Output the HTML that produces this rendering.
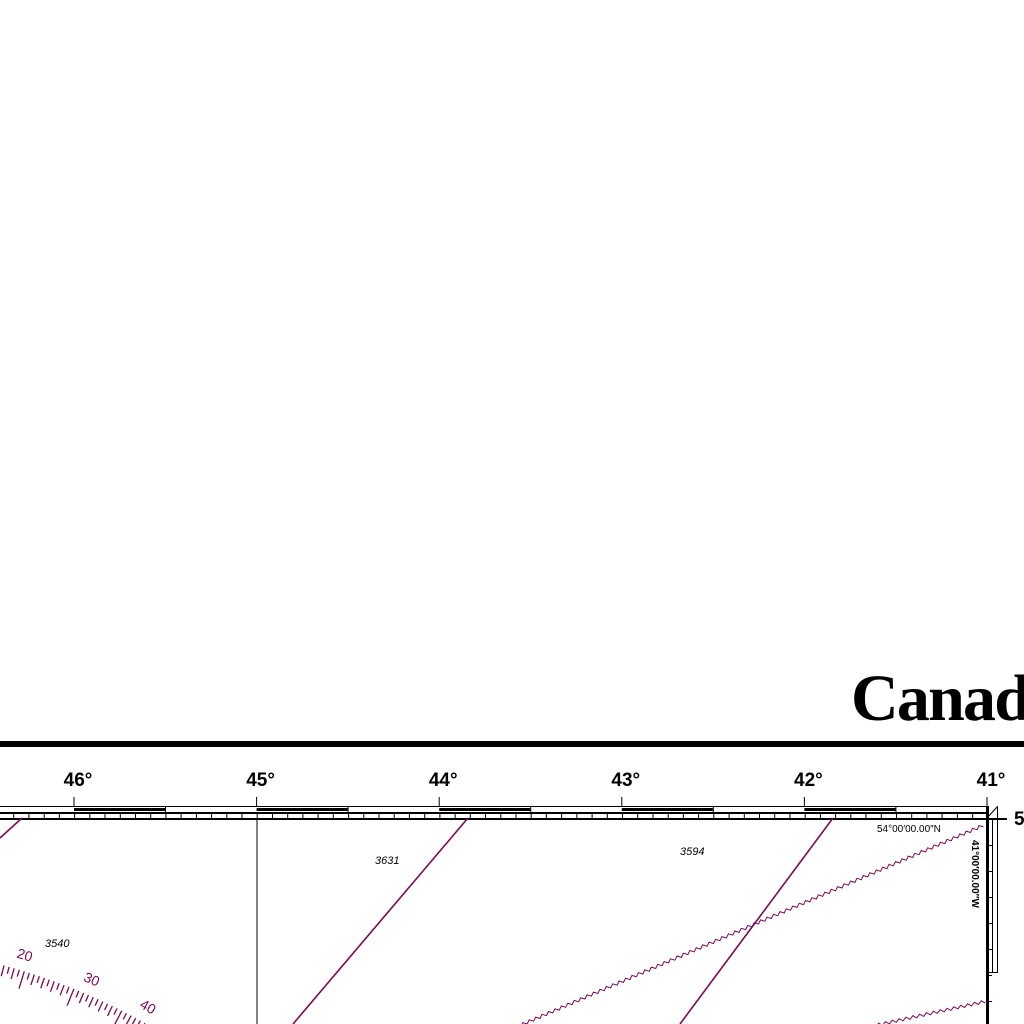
<!DOCTYPE html>
<html><head><meta charset="utf-8"><style>
body{margin:0;background:#fff;width:1024px;height:1024px;overflow:hidden}
svg{display:block}
</style></head><body>
<svg id="c" width="1024" height="1024" viewBox="0 0 1024 1024">
<text x="851" y="720" font-family="Liberation Serif, serif" font-weight="bold" font-size="66" fill="#000" textLength="180">Canad</text>
<rect x="0" y="741" width="1024" height="6" fill="#000"/>
<g id="border"></g>
<g id="marks"></g>
<text x="877" y="832" font-family="Liberation Sans, sans-serif" font-size="10" fill="#000">54°00′00.00″N</text>
<text transform="translate(972,840) rotate(90)" font-family="Liberation Sans, sans-serif" font-weight="bold" font-size="10" fill="#000">41°00′00.00″W</text>
<text x="1014" y="825" font-family="Liberation Sans, sans-serif" font-weight="bold" font-size="19" fill="#000">5</text>
<text x="45" y="947" font-family="Liberation Sans, sans-serif" font-style="italic" font-size="11" fill="#000">3540</text>
<text x="375" y="864" font-family="Liberation Sans, sans-serif" font-style="italic" font-size="11" fill="#000">3631</text>
<text x="680" y="855" font-family="Liberation Sans, sans-serif" font-style="italic" font-size="11" fill="#000">3594</text>
</svg>
<script>
const lonLabels=["46°","45°","44°","43°","42°","41°"];
const lonValues=[46,45,44,43,42,41];
const NS="http://www.w3.org/2000/svg";
const xOf=v=>74+(46-v)*182.6;
const B=document.getElementById('border'), M=document.getElementById('marks'), S=document.getElementById('c');
function el(p,tag,a){const e=document.createElementNS(NS,tag);for(const k in a)e.setAttribute(k,a[k]);p.appendChild(e);return e;}
el(B,'rect',{x:0,y:806,width:987,height:1,fill:'#000'});
el(B,'rect',{x:0,y:812,width:987,height:2,fill:'#000'});
el(B,'rect',{x:0,y:818,width:1007,height:2,fill:'#000'});
el(B,'rect',{x:986,y:806,width:3,height:218,fill:'#000'});
el(B,'rect',{x:992,y:818,width:1,height:155,fill:'#000'});
el(B,'rect',{x:997,y:806,width:1,height:167,fill:'#000'});
el(B,'rect',{x:986,y:972,width:12,height:1,fill:'#000'});
el(B,'line',{x1:987,y1:818,x2:997,y2:807,stroke:'#000','stroke-width':1});
for(let y=845;y<1024;y+=26){el(B,'rect',{x:986,y:y,width:6,height:1,fill:'#000'});}
for(let x=xOf(46)-15.2*5;x<987;x+=15.22){el(B,'rect',{x:x.toFixed(1),y:813,width:1,height:5,fill:'#000'});}
lonValues.forEach((v,i)=>{
  const x=xOf(v);
  const t=el(S,'text',{x:x+4,y:786,'text-anchor':'middle','font-family':'Liberation Sans, sans-serif','font-weight':'bold','font-size':'19',fill:'#000'});
  t.textContent=lonLabels[i];
  
  
  el(B,'rect',{x:x-0.5,y:797,width:1,height:10,fill:'#000'});
  if(i<5){
    el(B,'rect',{x:x,y:808,width:91,height:3,fill:'#000'});
    el(B,'rect',{x:x+91,y:806,width:1,height:8,fill:'#000'});
  }
});
el(M,'rect',{x:256.5,y:819,width:1,height:205,fill:'#000'});
const P='#7a0b55';
[[468,818,293,1024],[833,818,680,1024],[22,818,0,838]].forEach(l=>{
  const e=el(M,'line',{x1:l[0],y1:l[1],x2:l[2],y2:l[3],stroke:P,'stroke-width':1.6});
  
  
});
function wavy(x1,y1,x2,y2){
  const dx=x2-x1,dy=y2-y1,L=Math.hypot(dx,dy),ux=dx/L,uy=dy/L,nx=-uy,ny=ux;
  let d='';const step=3.5;
  for(let s=0,k=0;s<=L;s+=step,k++){const o=(k%2?2:-1);const x=x1+ux*s+nx*o,y=y1+uy*s+ny*o;d+=(k?'L':'M')+x.toFixed(1)+' '+y.toFixed(1);}
  const e=el(M,'path',{d:d,fill:'none',stroke:P,'stroke-width':1});
  
  
}
wavy(983,826,520,1026);
wavy(985,1002,875,1026);
const cx=-152,cy=1548,R=600;
for(let a=-78,k=0;a<=-58;a+=0.5,k++){
  const r=a*Math.PI/180;
  const len=(k%10===0)?18:(k%2===0)?11:7;
  const x1=cx+(R+3)*Math.cos(r),y1=cy+(R+3)*Math.sin(r);
  const x2=cx+(R+3-len)*Math.cos(r),y2=cy+(R+3-len)*Math.sin(r);
  el(M,'line',{x1:x1,y1:y1,x2:x2,y2:y2,stroke:P,'stroke-width':1.3});
}
[["20",-73.4],["30",-66.8],["40",-61]].forEach(t=>{
  const r=t[1]*Math.PI/180;
  const x=cx+(R+14)*Math.cos(r), y=cy+(R+14)*Math.sin(r);
  const e=el(M,'text',{x:x,y:y,'text-anchor':'middle',transform:`rotate(${(t[1]+90).toFixed(1)} ${x.toFixed(1)} ${y.toFixed(1)})`,'font-family':'Liberation Sans, sans-serif','font-size':'14',fill:P});
  e.textContent=t[0];
  
  
});
</script>
</body></html>
